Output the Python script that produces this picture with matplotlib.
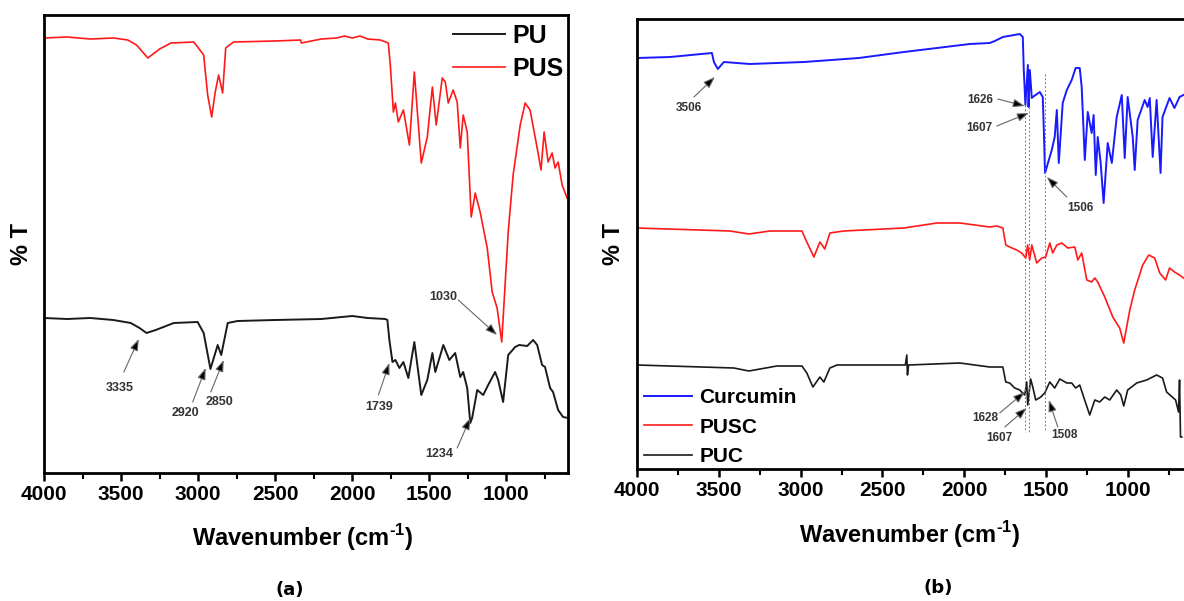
import numpy as np
import matplotlib
matplotlib.use('Agg')
import matplotlib.pyplot as plt

plt.rcParams['font.family'] = ['Liberation Sans', 'DejaVu Sans']
plt.rcParams['mathtext.fontset'] = 'custom'
plt.rcParams['mathtext.bf'] = 'Liberation Sans:bold'
plt.rcParams['mathtext.rm'] = 'Liberation Sans'

# ---------------- data (a) ----------------
# wavenumber (cm-1) and transmittance (arbitrary, offset)
pus_wn = [4000, 3850, 3700, 3550, 3456, 3400, 3326, 3250, 3177, 3028, 2964, 2938, 2912, 2890,
          2867, 2841, 2821, 2770, 2500, 2336, 2330, 2200, 2100, 2050, 2000, 1950, 1900, 1818,
          1766, 1753, 1733, 1720, 1701, 1668, 1629, 1597, 1552, 1513, 1480, 1455, 1416, 1396,
          1377, 1345, 1319, 1299, 1280, 1254, 1228, 1202, 1170, 1124, 1092, 1060, 1030, 988,
          956, 910, 878, 846, 800, 775, 755, 729, 703, 684, 664, 638, 606]
pus_t = [435, 436, 434, 435, 433, 428, 415, 424, 430, 431, 418, 378, 356, 380,
         398, 380, 425, 431, 432, 433, 430, 434, 435, 437, 435, 437, 434, 433,
         430, 408, 361, 370, 351, 363, 328, 401, 310, 336, 386, 348, 395, 391,
         370, 383, 371, 325, 358, 341, 256, 280, 261, 225, 181, 165, 131, 241,
         298, 348, 370, 363, 325, 303, 341, 311, 320, 305, 311, 288, 275]

pu_wn = [4000, 3850, 3700, 3550, 3437, 3380, 3335, 3275, 3158, 3003, 2964, 2920, 2873, 2850,
         2808, 2744, 2500, 2200, 2000, 1950, 1900, 1785, 1772, 1759, 1739, 1720, 1694, 1668,
         1636, 1597, 1552, 1513, 1480, 1461, 1409, 1370, 1332, 1299, 1280, 1254, 1234, 1222,
         1189, 1150, 1118, 1073, 1053, 1021, 988, 943, 917, 865, 826, 800, 768, 749, 716, 697,
         664, 632, 600]
pu_t = [155, 154, 155, 153, 150, 145, 140, 143, 150, 151, 140, 104, 128, 118,
        150, 152, 153, 154, 157, 156, 155, 154, 153, 133, 111, 113, 105, 111,
        95, 131, 78, 93, 120, 101, 128, 113, 120, 96, 101, 85, 50, 55,
        83, 78, 88, 101, 93, 71, 118, 126, 128, 127, 133, 128, 108, 106, 85, 81,
        63, 56, 55]

# ---------------- data (b) ----------------
cur_wn = [4000, 3798, 3542, 3530, 3506, 3469, 3310, 2980, 2644, 2369, 2167, 1966, 1844, 1813,
          1764, 1660, 1642, 1636, 1626, 1611, 1607, 1599, 1587, 1581, 1538, 1520, 1514, 1506,
          1465, 1447, 1434, 1422, 1398, 1373, 1343, 1319, 1294, 1282, 1263, 1245, 1221, 1209,
          1196, 1184, 1166, 1148, 1123, 1098, 1068, 1037, 1019, 1001, 970, 958, 940, 897, 879,
          866, 848, 824, 800, 788, 745, 715, 684, 660]
cur_t = [411, 412, 416, 407, 400, 407, 405, 407, 411, 417, 421, 425, 426, 428,
         432, 435, 432, 399, 364, 404, 362, 399, 371, 372, 377, 372, 342, 296,
         319, 332, 359, 306, 366, 379, 389, 401, 401, 382, 309, 357, 336, 354,
         294, 332, 306, 266, 326, 306, 352, 374, 311, 372, 332, 299, 349, 369, 362,
         371, 312, 369, 296, 352, 371, 361, 372, 374]

pusc_wn = [4000, 3432, 3316, 3188, 2992, 2962, 2919, 2882, 2852, 2821, 2736, 2369, 2167, 2027,
           1844, 1801, 1764, 1746, 1709, 1679, 1649, 1624, 1612, 1600, 1587, 1557, 1526, 1502,
           1477, 1459, 1434, 1404, 1367, 1324, 1306, 1282, 1251, 1221, 1202, 1184, 1141, 1092,
           1050, 1025, 988, 958, 909, 872, 836, 805, 769, 745, 715, 684, 660]
pusc_t = [241, 238, 235, 238, 238, 227, 212, 227, 220, 236, 238, 241, 246, 246,
          242, 243, 241, 224, 221, 219, 216, 211, 224, 209, 224, 206, 211, 212,
          226, 216, 224, 226, 221, 222, 209, 216, 189, 187, 191, 187, 172, 152,
          141, 126, 159, 179, 204, 214, 211, 196, 189, 201, 197, 194, 191]

puc_wn = [4000, 3408, 3316, 3145, 2992, 2962, 2925, 2882, 2858, 2821, 2778, 2360, 2351, 2347,
          2340, 2027, 1844, 1764, 1746, 1722, 1691, 1661, 1630, 1618, 1612, 1594, 1581, 1563,
          1532, 1508, 1477, 1447, 1416, 1373, 1343, 1319, 1294, 1270, 1233, 1202, 1172, 1141,
          1111, 1068, 1043, 1025, 1001, 946, 885, 824, 788, 763, 708, 690, 684, 678, 670]
puc_t = [104, 101, 98, 103, 103, 96, 82, 92, 87, 101, 104, 104, 114, 94,
         104, 106, 102, 102, 87, 86, 81, 79, 74, 87, 64, 90, 82, 69,
         72, 76, 87, 81, 90, 86, 86, 81, 84, 72, 54, 69, 67, 72,
         69, 79, 74, 63, 79, 86, 89, 94, 91, 77, 69, 57, 89, 32, 32]

# dashed guide lines in (b): wavenumber, top, bottom
guide_wn = [1626, 1607, 1506]
guide_top = [364, 362, 395]
guide_bot = [37, 37, 39]

# peak labels: label, text (wn, T), arrow tail (wn, T), arrow head (wn, T)
notes_a = [('3335', (3508, 85), (3482, 101), (3385, 134)),
           ('2920', (3080, 60), (3035, 71), (2951, 105)),
           ('2850', (2860, 71), (2918, 81), (2834, 113)),
           ('1739', (1824, 66), (1830, 78), (1759, 110)),
           ('1234', (1435, 19), (1319, 25), (1234, 55)),
           ('1030', (1409, 176), (1312, 173), (1060, 138))]
notes_b = [('3506', (3682, 361), (3652, 372), (3524, 392)),
           ('1626', (1905, 369), (1795, 370), (1630, 363)),
           ('1607', (1905, 341), (1801, 343), (1605, 356)),
           ('1506', (1288, 261), (1373, 272), (1495, 292)),
           ('1628', (1874, 51), (1783, 56), (1630, 77)),
           ('1607', (1783, 31), (1752, 42), (1618, 61)),
           ('1508', (1385, 34), (1428, 42), (1483, 69))]


def style(ax, xmin, lab_min):
    ax.set_xlim(4000, xmin)
    ax.set_yticks([])
    major = np.arange(4000, lab_min - 1, -500)
    ax.set_xticks(major)
    ax.set_xticklabels([str(v) for v in major], fontweight='bold', fontsize=15)
    ax.set_xticks(np.arange(3750, xmin - 1, -500), minor=True)
    ax.tick_params(axis='x', which='major', direction='out', length=6, width=1.8, pad=3)
    ax.tick_params(axis='x', which='minor', direction='out', length=4, width=1.5)
    for sp in ax.spines.values():
        sp.set_linewidth(2)


def note(ax, items, fs):
    for lab, txt, tail, head in items:
        ax.text(txt[0], txt[1], lab, ha='center', va='center', fontsize=fs,
                fontweight='bold', color='#333333')
        ax.annotate('', xy=head, xytext=tail,
                    arrowprops=dict(arrowstyle='-|>,head_length=0.7,head_width=0.25',
                                    fc='black', ec='#666666', lw=0.8,
                                    shrinkA=0, shrinkB=0))


fig = plt.figure(figsize=(11.84, 6.01), dpi=100)
ax1 = fig.add_axes([44 / 1184, 128 / 601, 524 / 1184, 458 / 601])
ax2 = fig.add_axes([637 / 1184, 132 / 601, 589 / 1184, 450 / 601])

# panel (a)
ax1.plot(pu_wn, pu_t, color='#1a1a1a', lw=1.4, label='PU')
ax1.plot(pus_wn, pus_t, color='#ff1a1a', lw=1.2, label='PUS')
ax1.set_ylim(0, 458)
style(ax1, 600, 1000)
note(ax1, notes_a, 9)
ax1.legend(loc='upper right', bbox_to_anchor=(1 - 4 / 524, 1 - 9 / 458), frameon=False,
           prop={'weight': 'bold', 'size': 18}, handlelength=2.1, handletextpad=0.3,
           labelspacing=0.35, borderpad=0, borderaxespad=0)

# panel (b)
ax2.plot(cur_wn, cur_t, color='#1a1aff', lw=1.4, label='Curcumin')
ax2.plot(pusc_wn, pusc_t, color='#ff1a1a', lw=1.2, label='PUSC')
ax2.plot(puc_wn, puc_t, color='#1a1a1a', lw=1.2, label='PUC')
for w, t0, t1 in zip(guide_wn, guide_top, guide_bot):
    ax2.plot([w, w], [t0, t1], color='#777777', lw=0.7, ls=(0, (2, 2)))
ax2.set_ylim(0, 450)
style(ax2, 400, 1000)
note(ax2, notes_b, 8.5)
ax2.legend(loc='lower left', bbox_to_anchor=(7 / 589, 3 / 450), frameon=False,
           prop={'weight': 'bold', 'size': 15}, handlelength=2.3, handletextpad=0.35,
           labelspacing=0.5, borderpad=0, borderaxespad=0)

# axis titles and panel letters
xl = 'Wavenumber (cm$^{\\mathbf{\u2010 1}}$)'
fig.text(303 / 1184, 1 - 538 / 601, xl, ha='center', va='center', fontsize=17, fontweight='bold')
fig.text(910 / 1184, 1 - 535 / 601, xl, ha='center', va='center', fontsize=17, fontweight='bold')
fig.text(22 / 1184, 1 - 244 / 601, '% T', rotation=90, ha='center', va='center',
         fontsize=17, fontweight='bold')
fig.text(613 / 1184, 1 - 244 / 601, '% T', rotation=90, ha='center', va='center',
         fontsize=17, fontweight='bold')
fig.text(290 / 1184, 1 - 590 / 601, '(a)', ha='center', va='center', fontsize=13,
         fontweight='bold', family='DejaVu Sans')
fig.text(938 / 1184, 1 - 588 / 601, '(b)', ha='center', va='center', fontsize=13,
         fontweight='bold', family='DejaVu Sans')

fig.savefig('out.png', dpi=100)
